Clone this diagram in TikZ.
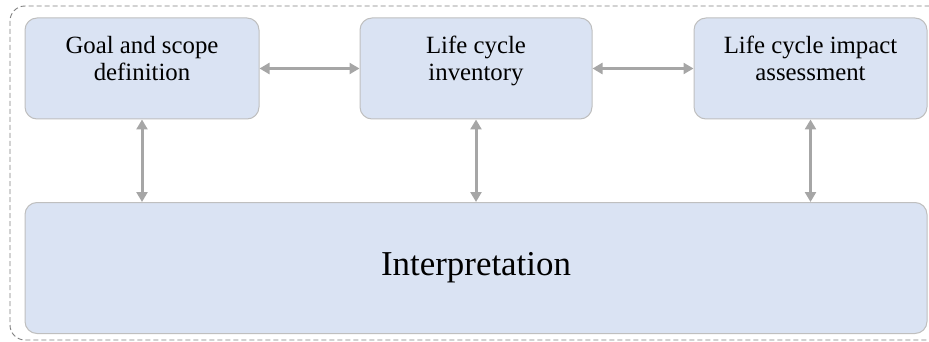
\documentclass[tikz,border=0pt]{standalone}
\usepackage{fontspec}
\setmainfont{Liberation Serif}
\usetikzlibrary{arrows.meta,calc}
\definecolor{boxfill}{HTML}{DAE3F3}
\definecolor{boxline}{HTML}{BFBFBF}
\definecolor{arrowgray}{HTML}{A6A6A6}
\definecolor{framegray}{HTML}{7F7F7F}
\tikzset{
    stagebox/.style={draw=boxline,fill=boxfill,line width=1pt,rounded corners=12pt,
        minimum width=234pt,minimum height=101pt,inner sep=0pt},
    stagetext/.style={anchor=north,align=center,inner sep=0pt,
        font=\fontsize{24.8}{27}\selectfont},
    link/.style={draw=arrowgray,line width=3pt,
        {Triangle[length=10pt,width=11pt]}-{Triangle[length=10pt,width=11pt]}}
}
\begin{document}
\begin{tikzpicture}[x=1pt,y=-1pt]
        \useasboundingbox (0,0) rectangle (929,342);
        % outer dashed frame
        \draw[framegray,line width=0.9pt,dash pattern=on 5pt off 3pt,rounded corners=15pt]
            (10,6) rectangle (945,340);
        % the four phases
        \node[stagebox] (goal) at (142,68.5) {};
        \node[stagebox,minimum width=232pt] (inventory) at (476,68.5) {};
        \node[stagebox,minimum width=233pt] (impact) at (810.5,68.5) {};
        \node[stagebox,minimum width=902pt,minimum height=131pt] (interp) at (476,268) {};
        \node[stagetext] (goaltxt) at (142,36) {Goal and scope\\definition};
        \node[stagetext] (inventorytxt) at (476,36) {Life cycle\\inventory};
        \node[stagetext] (impacttxt) at (810.5,36) {Life cycle impact\\assessment};
        \node[font=\fontsize{34.9}{40}\selectfont] (interptxt) at (interp.center) {Interpretation};
        % arrows between phases
        \draw[link] (goal.east) -- (inventory.west);
        \draw[link] (inventory.east) -- (impact.west);
        \draw[link] (goal.south) -- (goal.south |- interp.north);
        \draw[link] (inventory.south) -- (inventory.south |- interp.north);
        \draw[link] (impact.south) -- (impact.south |- interp.north);
    \end{tikzpicture}
\end{document}
